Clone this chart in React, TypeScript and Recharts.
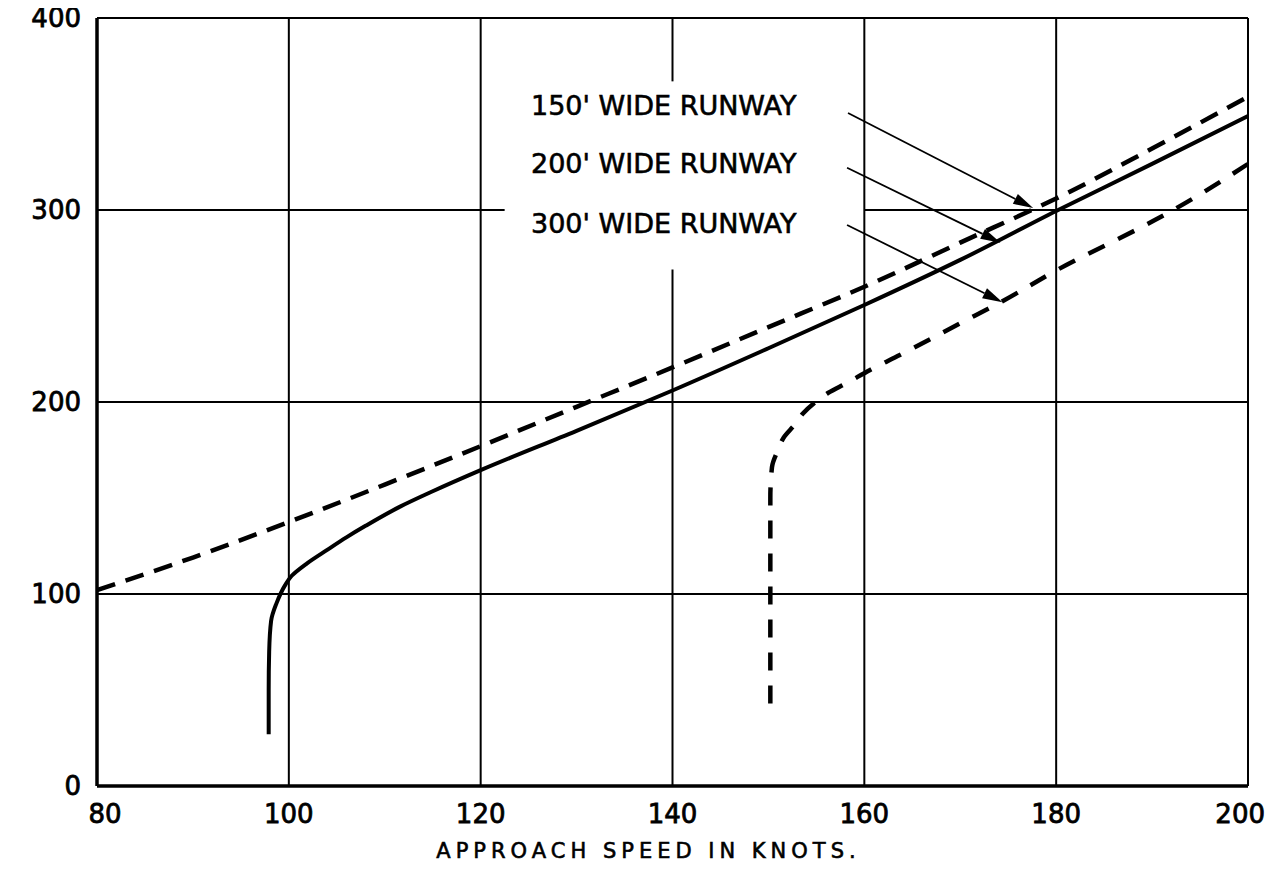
import React from "react"
import {
  LineChart,
  Line,
  XAxis,
  YAxis,
  CartesianGrid,
  ReferenceLine,
  ReferenceDot,
  Label,
} from "recharts"

const FONT = "'DejaVu Sans', sans-serif"

// axes
const xTicks = [80, 100, 120, 140, 160, 180, 200]
const yTicks = [0, 100, 200, 300, 400]

// 150' wide runway (dashed, upper)
const speed150 = [80, 90, 100, 110, 120, 130, 140, 150, 160, 170, 180, 190, 200]
const dist150 = [102, 119, 137.5, 157, 177, 197.5, 218, 239, 260, 283, 306, 332, 359]

// 200' wide runway (solid)
const speed200 = [97.9, 97.9, 97.95, 98.15, 98.7, 99.6, 100.3, 101.9, 104, 106, 108, 111.6, 115, 120, 130, 140, 150, 160, 170, 180, 190, 200]
const dist200 = [27, 50, 70, 86, 95, 104.5, 109.5, 116, 123, 129.5, 135.5, 145.5, 153.5, 164.5, 185, 206, 228, 250.5, 274, 299.5, 324, 349]

// 300' wide runway (dashed, right)
const speed300 = [150.2, 150.2, 150.2, 150.37, 151, 151.6, 152.8, 153.6, 154.9, 156.2, 158.2, 160.6, 163.7, 170, 174.4, 180, 190, 192.2, 200]
const dist300 = [43, 100, 150, 166, 175, 181.5, 188.5, 194, 200, 204.7, 210, 216.7, 224.5, 241, 252.5, 268.5, 294, 300, 324]

// annotations
const labels = ["150' WIDE  RUNWAY", "200' WIDE  RUNWAY", "300' WIDE  RUNWAY"]
const labelX = [125.25, 125.25, 125.25]
const labelY = [349.5, 319.3, 288]
const arrowFromX = [158.3, 158.2, 158.2]
const arrowFromY = [350.5, 322, 292.2]
const arrowToX = [177.6, 174.2, 174.4]
const arrowToY = [301, 283, 252]

const zip = (xs: number[], ys: number[]) => xs.map((x, i) => ({ x, y: ys[i] }))

const data150 = zip(speed150, dist150)
const data200 = zip(speed200, dist200)
const data300 = zip(speed300, dist300)

const XTick = (props: any) => {
  const { x, y, payload } = props
  // first and last labels sit a little inside the frame, as in the drawing
  let tx = x
  let anchor: "middle" | "end" = "middle"
  if (payload.value === 80) tx = x + 8
  if (payload.value === 200) {
    tx = x + 17
    anchor = "end"
  }
  return (
    <text
      x={tx}
      y={y + 29}
      textAnchor={anchor}
      fontSize={26}
      fontFamily={FONT}
      fill="#000"
      stroke="#000"
      strokeWidth={0.8}
    >
      {payload.value}
    </text>
  )
}

const YTick = (props: any) => {
  const { x, y, payload } = props
  return (
    <text
      x={x - 8}
      y={y + 9}
      textAnchor="end"
      fontSize={26}
      fontFamily={FONT}
      fill="#000"
      stroke="#000"
      strokeWidth={0.8}
    >
      {payload.value}
    </text>
  )
}

const Arrow = (props: any) => {
  const { x1, y1, x2, y2 } = props
  if (x1 == null) return null
  const ang = Math.atan2(y2 - y1, x2 - x1)
  const len = 20
  const w = 5.5
  const bx = x2 - len * Math.cos(ang)
  const by = y2 - len * Math.sin(ang)
  const px = -Math.sin(ang) * w
  const py = Math.cos(ang) * w
  return (
    <g>
      <line x1={x1} y1={y1} x2={bx} y2={by} stroke="#000" strokeWidth={1.8} />
      <polygon points={`${x2},${y2} ${bx + px},${by + py} ${bx - px},${by - py}`} fill="#000" />
    </g>
  )
}

export default function App() {
  return (
    <div style={{ marginTop: -8, marginLeft: -8 }}>
      <LineChart width={1274} height={870} margin={{ top: 18, right: 26, left: 0, bottom: 0 }}>
        <CartesianGrid
          stroke="#000"
          strokeWidth={2}
          horizontalValues={[100, 200, 400]}
          verticalValues={[100, 120, 160, 180, 200]}
        />
        <XAxis
          dataKey="x"
          type="number"
          domain={[80, 200]}
          ticks={xTicks}
          tickLine={false}
          axisLine={{ stroke: "#000", strokeWidth: 3.5 }}
          tick={<XTick />}
          height={84}
          allowDataOverflow
        >
          <Label
            content={(p: any) => {
              const vb = p.viewBox || { x: 97, y: 786, width: 1151 }
              return (
                <text
                  x={vb.x + vb.width / 2 - 24}
                  y={vb.y + 72}
                  textAnchor="middle"
                  fontSize={21}
                  letterSpacing={5}
                  fontFamily={FONT}
                  fill="#000"
                  stroke="#000"
                  strokeWidth={0.6}
                >
                  APPROACH SPEED IN KNOTS.
                </text>
              )
            }}
          />
        </XAxis>
        <YAxis
          type="number"
          domain={[0, 400]}
          ticks={yTicks}
          tickLine={false}
          axisLine={{ stroke: "#000", strokeWidth: 3.5 }}
          tick={<YTick />}
          width={97}
          allowDataOverflow
        />
        {/* broken grid lines behind the labels */}
        <ReferenceLine segment={[{ x: 80, y: 300 }, { x: 122.5, y: 300 }]} stroke="#000" strokeWidth={2} />
        <ReferenceLine segment={[{ x: 160, y: 300 }, { x: 200, y: 300 }]} stroke="#000" strokeWidth={2} />
        <ReferenceLine segment={[{ x: 140, y: 0 }, { x: 140, y: 269 }]} stroke="#000" strokeWidth={2} />
        <ReferenceLine segment={[{ x: 140, y: 367 }, { x: 140, y: 400 }]} stroke="#000" strokeWidth={2} />

        <Line
          data={data150}
          dataKey="y"
          type="monotoneY"
          stroke="#000"
          strokeWidth={4.5}
          strokeDasharray="19 11"
          dot={false}
          activeDot={false}
          isAnimationActive={false}
        />
        <Line
          data={data200}
          dataKey="y"
          type="monotoneY"
          stroke="#000"
          strokeWidth={4}
          dot={false}
          activeDot={false}
          isAnimationActive={false}
        />
        <Line
          data={data300}
          dataKey="y"
          type="monotoneY"
          stroke="#000"
          strokeWidth={4.5}
          strokeDasharray="18 15"
          dot={false}
          activeDot={false}
          isAnimationActive={false}
        />

        {labels.map((t, i) => (
          <ReferenceDot
            key={t}
            x={labelX[i]}
            y={labelY[i]}
            r={0}
            shape={(p: any) => (
              <text
                x={p.cx}
                y={p.cy}
                fontSize={27}
                fontFamily={FONT}
                fill="#000"
                stroke="#000"
                strokeWidth={0.6}
              >
                {t}
              </text>
            )}
          />
        ))}
        {labels.map((t, i) => (
          <ReferenceLine
            key={"a" + t}
            segment={[
              { x: arrowFromX[i], y: arrowFromY[i] },
              { x: arrowToX[i], y: arrowToY[i] },
            ]}
            shape={<Arrow />}
          />
        ))}
      </LineChart>
    </div>
  )
}
